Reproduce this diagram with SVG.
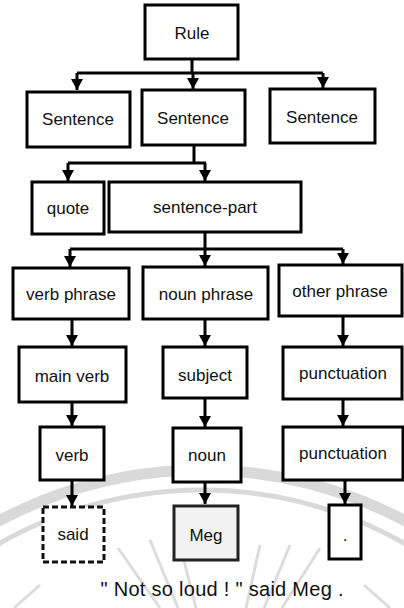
<svg xmlns="http://www.w3.org/2000/svg" width="404" height="608" viewBox="0 0 404 608">
  <defs>
    <marker id="tip" markerUnits="userSpaceOnUse" markerWidth="12" markerHeight="12" viewBox="0 0 12 12" refX="11" refY="6" orient="auto">
      <path d="M0,0 L11,6 L0,12 Z" fill="#000"/>
    </marker>
    <style>
      .box { fill: #fff; stroke: #000; stroke-width: 3; }
      .dash { fill: #fff; stroke: #111; stroke-width: 3; stroke-dasharray: 6 3; }
      .meg { fill: #f2f2f2; stroke: #222; stroke-width: 3; }
      .lbl { font-family: "Liberation Sans", Arial, sans-serif; font-size: 17px; fill: #111; text-anchor: middle; dominant-baseline: central; }
      .conn path { fill: none; stroke: #000; stroke-width: 3; }
      .wm { fill: none; stroke: #d9d9d9; }
    </style>
  </defs>

  <rect width="404" height="608" fill="#fff"/>

  <!-- faint background watermark -->
  <g id="watermark">
    <circle class="wm" cx="202" cy="900" r="430" stroke-width="11"/>
    <circle class="wm" cx="202" cy="900" r="410" stroke-width="5"/>
    <g stroke="#dcdcdc" stroke-width="3">
      <line x1="118" y1="548" x2="160" y2="608"/>
      <line x1="150" y1="540" x2="178" y2="608"/>
      <line x1="180" y1="545" x2="196" y2="608"/>
      <line x1="260" y1="545" x2="246" y2="608"/>
      <line x1="290" y1="545" x2="264" y2="608"/>
      <line x1="320" y1="548" x2="282" y2="608"/>
      <line x1="40" y1="585" x2="14" y2="608"/>
      <line x1="364" y1="585" x2="390" y2="608"/>
    </g>
  </g>

  <!-- connectors -->
  <g id="connectors" class="conn">
    <path d="M192,59 V73"/>
    <path d="M77,73 H323"/>
    <path d="M77,73 V90" marker-end="url(#tip)"/>
    <path d="M193,73 V89" marker-end="url(#tip)"/>
    <path d="M323,73 V88" marker-end="url(#tip)"/>

    <path d="M194,145 V163"/>
    <path d="M68,163 H206"/>
    <path d="M68,163 V181" marker-end="url(#tip)"/>
    <path d="M205,163 V181" marker-end="url(#tip)"/>

    <path d="M205,232 V249"/>
    <path d="M70,249 H343"/>
    <path d="M70,249 V267" marker-end="url(#tip)"/>
    <path d="M205,249 V266" marker-end="url(#tip)"/>
    <path d="M343,249 V264" marker-end="url(#tip)"/>

    <path d="M72,319 V346" marker-end="url(#tip)"/>
    <path d="M205,319 V346" marker-end="url(#tip)"/>
    <path d="M343,316 V346" marker-end="url(#tip)"/>

    <path d="M72,402 V426" marker-end="url(#tip)"/>
    <path d="M205,398 V427" marker-end="url(#tip)"/>
    <path d="M343,399 V426" marker-end="url(#tip)"/>

    <path d="M72,480 V506" marker-end="url(#tip)"/>
    <path d="M205,482 V504" marker-end="url(#tip)"/>
    <path d="M345,480 V504" marker-end="url(#tip)"/>
  </g>

  <g id="rule"><rect class="box" x="145" y="5" width="93" height="54"/><text class="lbl" x="192" y="33">Rule</text></g>

  <g id="sentence1"><rect class="box" x="27" y="92" width="103" height="55"/><text class="lbl" x="78" y="119">Sentence</text></g>
  <g id="sentence2"><rect class="box" x="142" y="90" width="103" height="55"/><text class="lbl" x="193" y="118">Sentence</text></g>
  <g id="sentence3"><rect class="box" x="270" y="89" width="105" height="54"/><text class="lbl" x="322" y="117">Sentence</text></g>

  <g id="quote"><rect class="box" x="32" y="182" width="72" height="52"/><text class="lbl" x="68" y="208">quote</text></g>
  <g id="sentence-part"><rect class="box" x="109" y="182" width="192" height="50"/><text class="lbl" x="205" y="207">sentence-part</text></g>

  <g id="verb-phrase"><rect class="box" x="13" y="268" width="116" height="51"/><text class="lbl" x="71" y="294">verb phrase</text></g>
  <g id="noun-phrase"><rect class="box" x="143" y="267" width="125" height="52"/><text class="lbl" x="206" y="294">noun phrase</text></g>
  <g id="other-phrase"><rect class="box" x="279" y="265" width="123" height="51"/><text class="lbl" x="340" y="291">other phrase</text></g>

  <g id="main-verb"><rect class="box" x="19" y="347" width="107" height="55"/><text class="lbl" x="72" y="376">main verb</text></g>
  <g id="subject"><rect class="box" x="163" y="347" width="84" height="51"/><text class="lbl" x="205" y="375">subject</text></g>
  <g id="punctuation1"><rect class="box" x="283" y="347" width="119" height="52"/><text class="lbl" x="343" y="373">punctuation</text></g>

  <g id="verb"><rect class="box" x="40" y="427" width="64" height="53"/><text class="lbl" x="72" y="455">verb</text></g>
  <g id="noun"><rect class="box" x="173" y="428" width="68" height="54"/><text class="lbl" x="207" y="455">noun</text></g>
  <g id="punctuation2"><rect class="box" x="283" y="427" width="120" height="53"/><text class="lbl" x="343" y="453">punctuation</text></g>

  <g id="said"><rect class="dash" x="43" y="507" width="61" height="55"/><text class="lbl" x="73" y="534">said</text></g>
  <g id="meg"><rect class="meg" x="174" y="506" width="64" height="54"/><text class="lbl" x="206" y="535">Meg</text></g>
  <g id="period"><rect class="box" x="329" y="505" width="32" height="54"/><text class="lbl" x="345" y="535">.</text></g>

  <text x="222" y="596" font-family="Liberation Sans, Arial, sans-serif" font-size="20" fill="#111" text-anchor="middle" textLength="243" lengthAdjust="spacing">" Not so loud ! " said Meg .</text>
</svg>
